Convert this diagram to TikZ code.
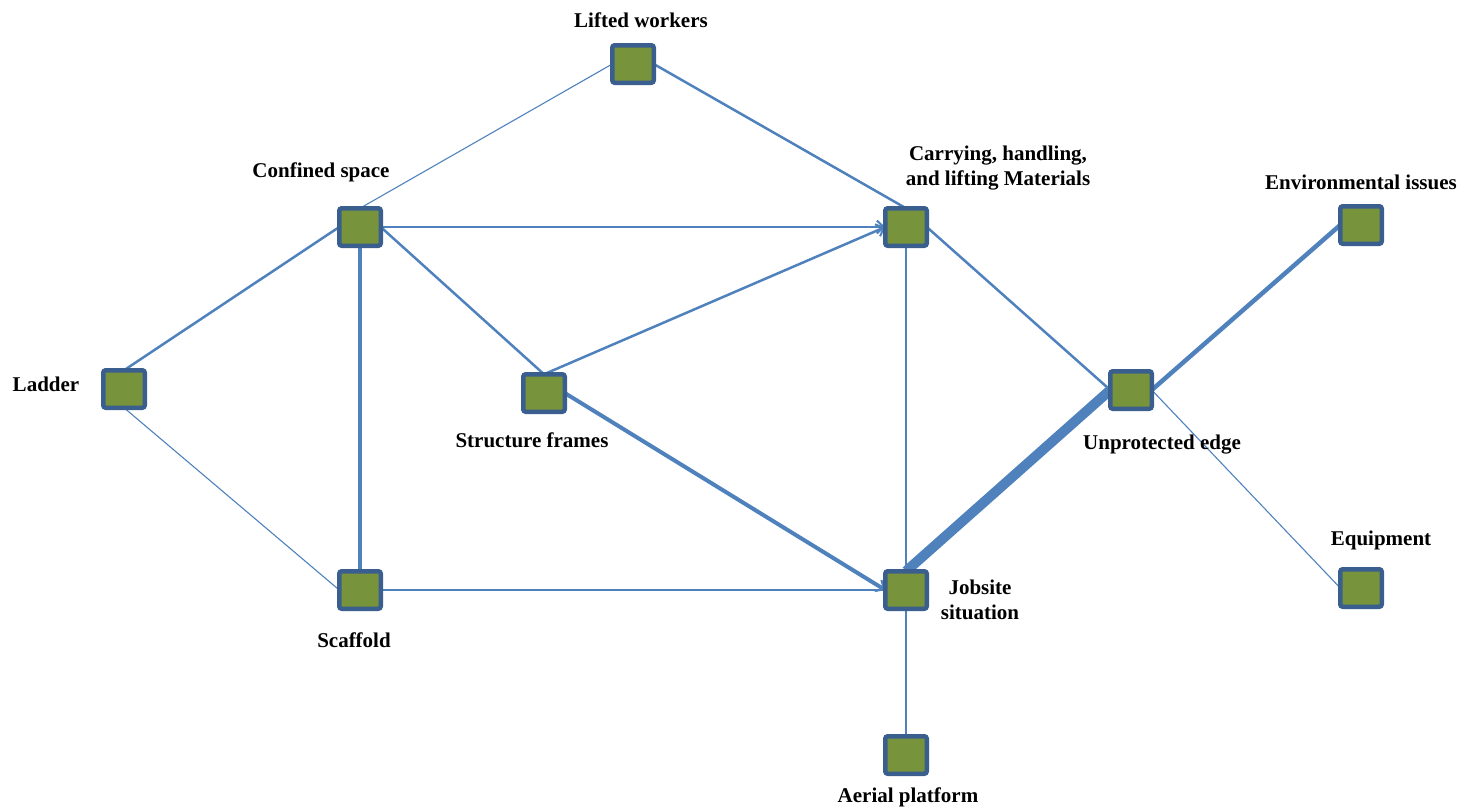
\documentclass[tikz,border=0pt]{standalone}
\usepackage{fontspec}
\setmainfont{Liberation Serif}
\usetikzlibrary{arrows.meta,backgrounds}
\definecolor{edgeblue}{HTML}{4F81BD}
\definecolor{boxfill}{HTML}{77933C}
\definecolor{boxline}{HTML}{3A5F8E}
\begin{document}
\begin{tikzpicture}[x=1pt,y=-1pt,
  box/.style={draw=boxline,fill=boxfill,line width=4.5pt,rounded corners=2.5pt,
    minimum width=41.5pt,minimum height=37.5pt,inner sep=0pt,outer sep=0pt},
  lab/.style={font=\fontsize{21}{25}\selectfont\bfseries,align=center,inner sep=0pt},
  edge/.style={draw=edgeblue},
  thin/.style={edge,line width=1.1pt},
  mthin/.style={edge,line width=1.6pt},
  med/.style={edge,line width=2.5pt},
  thick/.style={edge,line width=3.5pt},
  arr/.style={-{Straight Barb[length=7pt,width=13pt,line width=2pt]}}
]
\useasboundingbox (0,0) rectangle (1468,809);
% nodes
\node[box] (lift) at (633,64) {};
\node[box] (conf) at (360,227) {};
\node[box] (carry) at (906,227) {};
\node[box] (env) at (1361,225) {};
\node[box] (ladder) at (124,389) {};
\node[box] (struct) at (544,393) {};
\node[box] (unprot) at (1131,390) {};
\node[box] (scaf) at (360,590) {};
\node[box] (job) at (906,590) {};
\node[box] (equip) at (1361,588) {};
\node[box] (aerial) at (906,755) {};
% edges (behind boxes)
\begin{scope}[on background layer]
\draw[thin] (conf.north) -- (lift.west);
\draw[med] (lift.east) -- (carry.north);
\draw[med,arr] (conf.east) -- (carry.west);
\draw[med] (ladder.north) -- (conf.west);
\draw[thick] (conf.south) -- (scaf.north);
\draw[med] (conf.east) -- (struct.north);
\draw[med,arr] (struct.north) -- (carry.west);
\draw[edge,line width=4pt,arr] (struct.east) -- (job.west);
\draw[mthin] (carry.south) -- (job.north);
\draw[med] (carry.east) -- (unprot.west);
\draw[edge,line width=4.5pt] (unprot.east) -- (env.west);
\draw[edge,line width=10pt] (unprot.west) -- (job.north);
\draw[thin] (unprot.east) -- (equip.west);
\draw[thin] (ladder.south) -- (scaf.west);
\draw[med] (scaf.east) -- (job.west);
\draw[mthin] (job.south) -- (aerial.north);
\end{scope}
% labels
\node[lab] (llift) at (641,20) {Lifted workers};
\node[lab] (lconf) at (321,172) {Confined space};
\node[lab] (lcarry) at (998,168) {Carrying, handling,\\and lifting Materials};
\node[lab] (lenv) at (1361,182) {Environmental issues};
\node[lab] (lladder) at (46,384) {Ladder};
\node[lab] (lstruct) at (532,440) {Structure frames};
\node[lab] (lunprot) at (1162,445) {Unprotected edge};
\node[lab] (lscaf) at (354,640) {Scaffold};
\node[lab] (ljob) at (980,600) {Jobsite\\situation};
\node[lab] (lequip) at (1381,540) {Equipment};
\node[lab] (laerial) at (908,797) {Aerial platform};
\end{tikzpicture}
\end{document}
